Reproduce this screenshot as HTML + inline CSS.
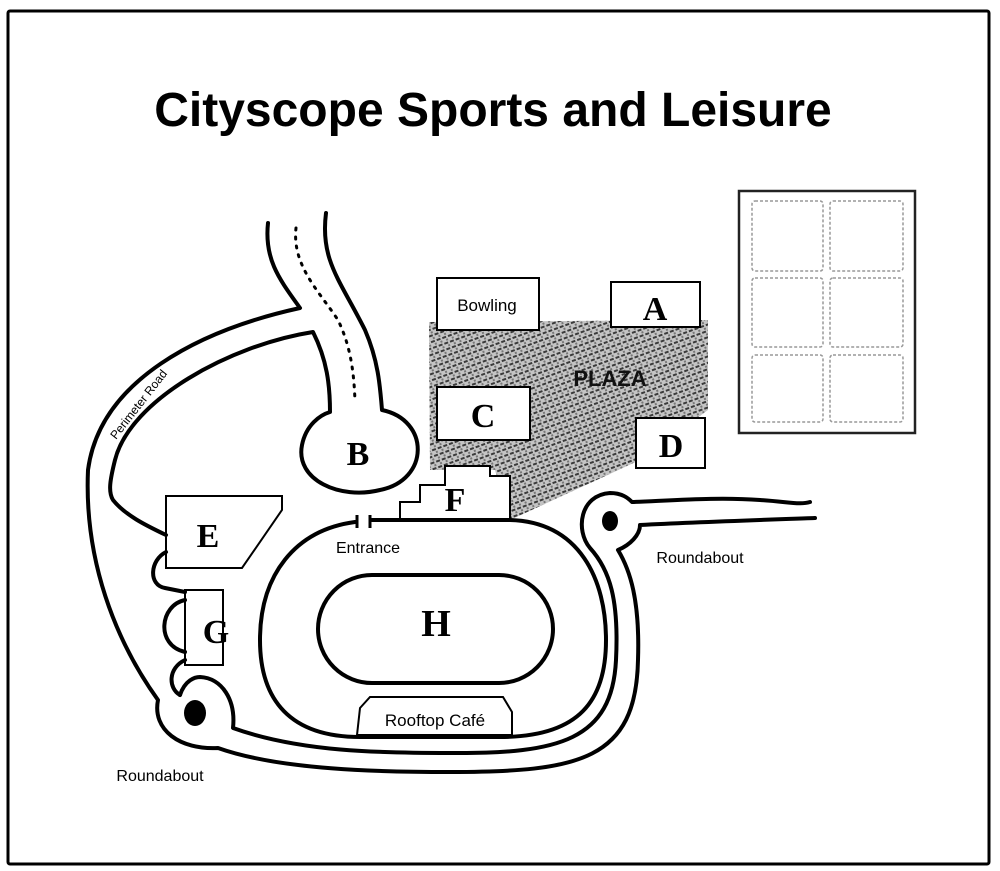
<!DOCTYPE html>
<html><head><meta charset="utf-8"><style>
html,body{margin:0;padding:0;background:#fff;}
svg{display:block;}
text{font-family:"Liberation Sans",sans-serif;}
.serif{font-family:"Liberation Serif",serif;font-weight:bold;}
</style></head><body>
<svg width="1000" height="871" viewBox="0 0 1000 871" xmlns="http://www.w3.org/2000/svg">
<defs>
<pattern id="hatch" width="6" height="6" patternUnits="userSpaceOnUse" patternTransform="rotate(-20)">
<rect width="6" height="6" fill="#c4c4c4"/>
<rect x="0" y="0" width="4" height="2" fill="#3a3a3a"/>
<rect x="3" y="3" width="2" height="2" fill="#777"/>
</pattern>
</defs>
<rect x="8" y="11" width="981" height="853" fill="none" stroke="#000" stroke-width="3" rx="2"/>
<text x="493" y="126" font-size="48" font-weight="bold" text-anchor="middle">Cityscope Sports and Leisure</text>

<!-- grid building -->
<rect x="739" y="191" width="176" height="242" fill="none" stroke="#222" stroke-width="2.5"/>
<g fill="none" stroke="#999" stroke-width="1.5" stroke-dasharray="3,2">
<rect x="752" y="201" width="71" height="70" rx="3"/><rect x="830" y="201" width="73" height="70" rx="3"/>
<rect x="752" y="278" width="71" height="69" rx="3"/><rect x="830" y="278" width="73" height="69" rx="3"/>
<rect x="752" y="355" width="71" height="67" rx="3"/><rect x="830" y="355" width="73" height="67" rx="3"/>
</g>

<!-- plaza -->
<path d="M429,322 L708,320 L708,410 L640,460 L510,520 L495,470 L430,470 Z" fill="url(#hatch)"/>
<text x="610" y="386" font-size="22" font-weight="bold" text-anchor="middle" fill="#111">PLAZA</text>

<g fill="#fff" stroke="#000" stroke-width="2">
<rect x="437" y="278" width="102" height="52"/>
<rect x="611" y="282" width="89" height="45"/>
<rect x="437" y="387" width="93" height="53"/>
<rect x="636" y="418" width="69" height="50"/>
<path d="M400,521 L400,502 L420,502 L420,485 L445,485 L445,466 L490,466 L490,476 L510,476 L510,521 Z"/>
<path d="M166,496 L282,496 L282,510 L242,568 L166,568 Z"/>
<rect x="185" y="590" width="38" height="75"/>
</g>
<text x="487" y="311" font-size="17" text-anchor="middle">Bowling</text>
<text x="655" y="320" font-size="34" text-anchor="middle" class="serif">A</text>
<text x="483" y="427" font-size="34" text-anchor="middle" class="serif">C</text>
<text x="671" y="457" font-size="34" text-anchor="middle" class="serif">D</text>
<text x="455" y="511" font-size="34" text-anchor="middle" class="serif">F</text>
<text x="208" y="547" font-size="34" text-anchor="middle" class="serif">E</text>
<text x="216" y="643" font-size="34" text-anchor="middle" class="serif">G</text>

<g fill="none" stroke="#000" stroke-width="4" stroke-linecap="round" stroke-linejoin="round">
<!-- road B / perimeter outer -->
<path d="M268,223 C264,260 280,280 300,308 C200,330 100,380 88,470 C84,560 115,640 158,700 C152,730 180,750 218,748 C280,770 380,772 450,772 C580,772 636,760 638,660 C640,600 630,570 618,550 C630,545 640,535 640,525 C700,522 760,520 815,518"/>
<!-- road B right, circle, perimeter inner -->
<path d="M326,213 C320,260 340,280 365,330 C378,360 380,385 382,410 C430,420 430,480 380,490 C340,500 295,480 302,445 C306,425 320,415 330,412 C330,385 327,360 313,332 C230,345 130,400 115,460 C110,480 108,492 113,500 C125,515 145,525 166,535"/>
<!-- bumps near E/G -->
<path d="M166,552 C150,560 148,585 165,588 L185,592 M185,600 C160,605 155,645 185,652 M185,660 C168,668 168,688 180,695"/>
<!-- left roundabout ring top and inner road -->
<path d="M180,695 C185,680 195,677 200,677 C222,678 236,700 233,728 C300,752 380,753 450,753 C560,754 612,740 616,660 C619,600 610,570 590,548 C575,530 580,495 610,493 C622,493 628,498 632,502 C680,500 720,497 760,500 C790,502 800,505 810,502"/>
<!-- stadium -->
<path d="M372,520 L510,520 C580,522 606,580 606,640 C606,700 580,737 500,737 L360,737 C290,737 260,700 260,640 C260,575 295,530 355,522"/>
<!-- inner oval H -->
<rect x="318" y="575" width="235" height="108" rx="54"/>
</g>
<path d="M357,515 L357,528 M370,515 L370,528" stroke="#000" stroke-width="3"/>
<g fill="none" stroke="#000" stroke-width="3" stroke-dasharray="2,7" stroke-linecap="round">
<path d="M296,228 C292,265 318,290 338,320 C350,345 354,370 355,402"/>
</g>
<ellipse cx="195" cy="713" rx="11" ry="13" fill="#000"/>
<ellipse cx="610" cy="521" rx="8" ry="10" fill="#000"/>
<path d="M357,735 L360,708 L370,697 L503,697 L512,712 L512,735 Z" fill="#fff" stroke="#000" stroke-width="2"/>
<text x="435" y="726" font-size="17" text-anchor="middle">Rooftop Café</text>
<text x="436" y="636" font-size="38" text-anchor="middle" class="serif">H</text>
<text x="358" y="465" font-size="34" text-anchor="middle" class="serif">B</text>
<text x="368" y="553" font-size="16" text-anchor="middle">Entrance</text>
<text x="700" y="563" font-size="16" text-anchor="middle">Roundabout</text>
<text x="160" y="781" font-size="16" text-anchor="middle">Roundabout</text>
<text x="0" y="0" font-size="12" transform="translate(116,440) rotate(-52)">Perimeter Road</text>
</svg>
</body></html>
